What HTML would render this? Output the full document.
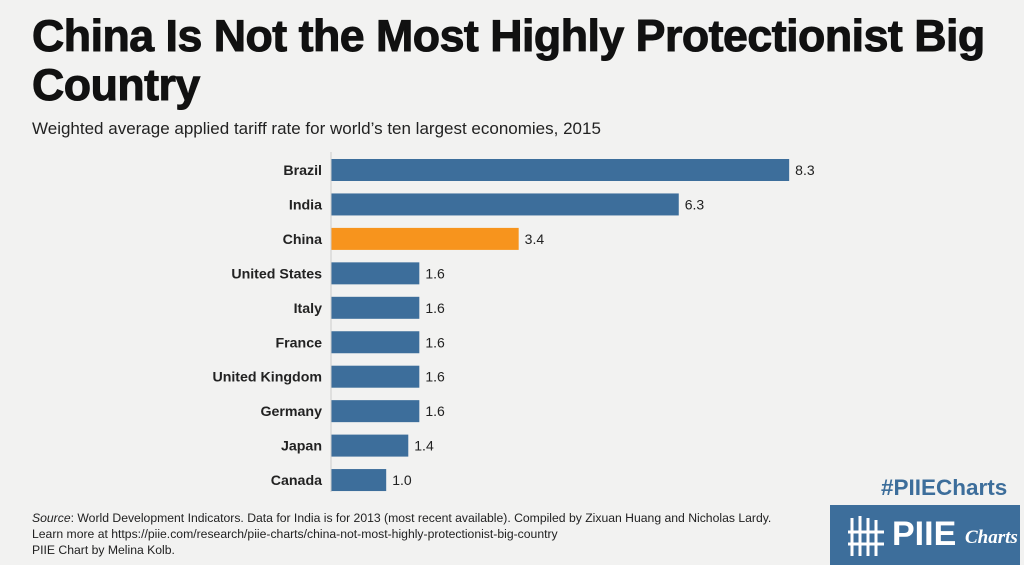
<!DOCTYPE html>
<html><head><meta charset="utf-8"><style>
body{margin:0;width:1024px;height:565px;overflow:hidden;background:#f2f2f1;font-family:"Liberation Sans",sans-serif;position:relative}
.t{position:absolute;left:32px;top:12px;font-size:44.7px;font-weight:900;line-height:49px;color:#111;letter-spacing:-0.5px;-webkit-text-stroke:1px #111}
.s{position:absolute;left:32px;top:119px;font-size:17px;color:#222}
.src{position:absolute;left:32px;top:510px;font-size:12.2px;line-height:16px;color:#222}
.tag{position:absolute;left:881px;top:475px;font-size:22.5px;font-weight:bold;color:#3d6e9b}
.logo{position:absolute;left:830px;top:505px;width:190px;height:60px;background:#3d6e9b;color:#fff}
</style></head><body>
<div class="t">China Is Not the Most Highly Protectionist Big<br>Country</div>
<div class="s">Weighted average applied tariff rate for world’s ten largest economies, 2015</div>
<svg id="c" width="1024" height="565" style="position:absolute;left:0;top:0"></svg>
<div class="src"><i>Source</i>: World Development Indicators. Data for India is for 2013 (most recent available). Compiled by Zixuan Huang and Nicholas Lardy.<br>Learn more at https://piie.com/research/piie-charts/china-not-most-highly-protectionist-big-country<br>PIIE Chart by Melina Kolb.</div>
<div class="tag">#PIIECharts</div>
<div class="logo">
<svg width="40" height="44" style="position:absolute;left:16px;top:9px"><g stroke="#fff" stroke-width="3" fill="none"><path d="M6 4V42M14 2V42M22 4V42M30 6V42M2 18H38M2 30H38"/></g></svg>
<span style="position:absolute;left:62px;top:10px;font-size:34px;font-weight:900">PIIE</span>
<span style="position:absolute;left:135px;top:22px;font-size:19px;font-style:italic;font-weight:bold;font-family:'Liberation Serif',serif">Charts</span>
</div>
<script>
const categories=["Brazil","India","China","United States","Italy","France","United Kingdom","Germany","Japan","Canada"];
const values=[8.3,6.3,3.4,1.6,1.6,1.6,1.6,1.6,1.4,1.0];
const labels=["8.3","6.3","3.4","1.6","1.6","1.6","1.6","1.6","1.4","1.0"];
const svg=document.getElementById('c');const NS="http://www.w3.org/2000/svg";
const x0=331,k=55.2;const X=v=>x0+v*k;const Y=i=>159+i*34.45;
function el(t,a,txt){const e=document.createElementNS(NS,t);for(const n in a)e.setAttribute(n,a[n]);if(txt!=null)e.textContent=txt;svg.appendChild(e);return e;}
categories.forEach((c,i)=>{
const r=el('rect',{x:x0,y:Y(i),width:X(values[i])-x0,height:22,fill:c==="China"?"#f7941d":"#3d6e9b"});


const l=el('text',{x:322,y:Y(i)+16,'text-anchor':'end','font-size':14.2,'font-weight':'bold',fill:'#222'},c);


const v=el('text',{x:X(values[i])+6,y:Y(i)+16,'font-size':14,fill:'#222'},labels[i]);


});
const ax=el('line',{x1:x0,x2:x0,y1:152,y2:492,stroke:'#ccc','stroke-width':1});


</script>
</body></html>
